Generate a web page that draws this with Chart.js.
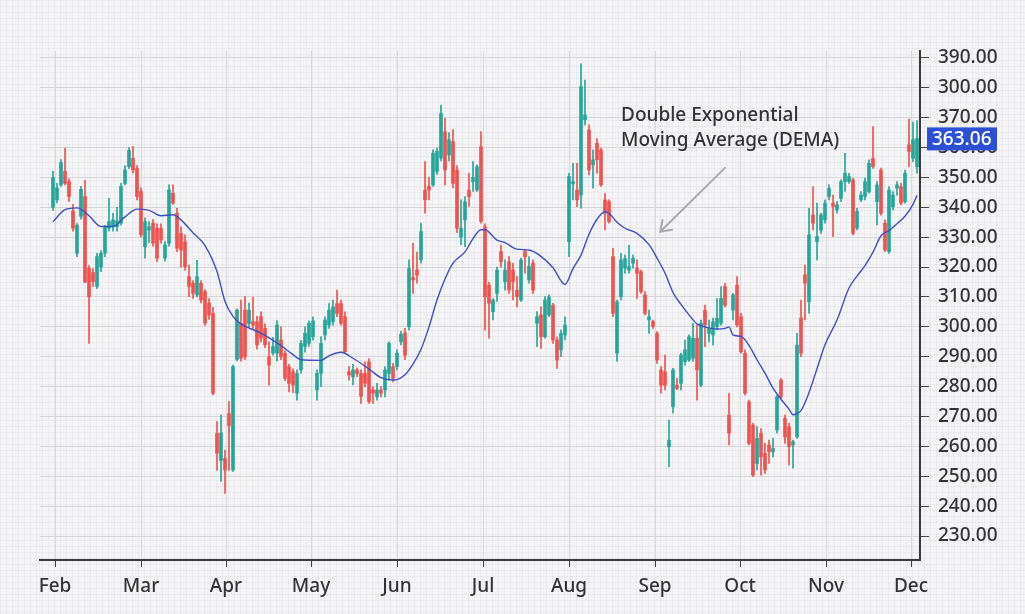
<!DOCTYPE html>
<html>
<head>
<meta charset="utf-8">
<script src="https://cdn.jsdelivr.net/npm/chart.js@4.4.1/dist/chart.umd.min.js"></script>
<style>
  html, body { margin: 0; padding: 0; }
  body {
    width: 1025px; height: 614px; overflow: hidden;
    background-color: #f4f4f6;
    background-image:
      linear-gradient(rgba(0,0,0,0.035) 1px, transparent 1px),
      linear-gradient(90deg, rgba(0,0,0,0.035) 1px, transparent 1px);
    background-size: 6px 6px;
  }
  #wrap { position: absolute; left: 0; top: 0; width: 1025px; height: 614px; }
</style>
</head>
<body>
<div id="wrap"><canvas id="chart" width="1025" height="614"></canvas></div>
<script>
// ---------- data (one candle per trading day, first one sits at slot 3) ----------
const firstSlot = 3;

const opens = [
  340, 342.5, 347.5, 352, 348.6, 338.8, 324.6, 337, 343.6, 319.6,
  318.2, 313.5, 320, 324.6, 333, 333.5, 333.5, 334.7, 348, 353.6,
  356.4, 353, 345.3, 326.8, 332.4, 334.7, 333, 333, 323, 328,
  344.7, 338, 331.3, 328.5, 316.8, 314.6, 310.7, 314.6, 311.8, 307.9,
  304.5, 264.4, 255.3, 256, 271, 252.1, 289.1, 301.2, 305.6, 301.1,
  301.7, 301.7, 303.4, 299.5, 290, 291.2, 291.2, 295.6, 291.2, 286.7,
  285, 277.8, 285.6, 293.4, 294.5, 296.7, 278.9, 284.4, 297.3, 300.6,
  301.7, 307.8, 307.8, 303.4, 285, 283.3, 285.6, 284.4, 284.4, 288.3,
  278.9, 276.6, 278.9, 278.9, 284.4, 286.7, 286.7, 295, 298, 300,
  316.5, 319, 322.4, 345.8, 347, 347.5, 352, 356.5, 365.3, 357.5,
  362, 352.5, 330, 335.8, 345.8, 348.6, 345.8, 360.3, 333.5, 314,
  305.1, 311.2, 325.2, 315.1, 321.8, 319, 312.3, 309, 325.2, 315.7,
  321.3, 301.2, 304, 296.7, 304, 307.3, 295.6, 292.3, 297.3, 328.5,
  347.8, 345.8, 344.1, 369.3, 365.9, 354.2, 361.4, 359.2, 342.5, 341.9,
  323.5, 291.2, 310.1, 319.6, 319, 321.3, 319.6, 318.5, 310.7, 302.3,
  301.8, 297.8, 285.6, 285, 259.9, 273.3, 280.5, 281.1, 288.4, 288.9,
  289.5, 296.2, 280.5, 305.6, 297.8, 297.3, 300.1, 301.2, 313.5, 270.5,
  305.6, 314, 303.4, 291.2, 275, 267.1, 254.3, 264.4, 257.7, 260.5,
  258.2, 265.5, 282.2, 269.4, 266.6, 260.5, 263.2, 303, 317.4, 308.4,
  337.4, 328.5, 332.4, 335.8, 343.6, 341.4, 339.1, 343, 348.6, 348.6,
  349.2, 333, 342.5, 343.6, 345.3, 356.4, 341.9, 352.5, 334.7, 325.2,
  340.2, 346.4, 346.9, 341.9, 360.9, 356.4, 353.6
];
const highs = [
  352, 348, 356, 359.8, 349.5, 341, 334.6, 347, 349, 320.5,
  319.5, 324.6, 325.5, 334, 343, 338, 340, 348, 354, 360,
  360.3, 354, 346.5, 336.5, 335.2, 336, 334.5, 334.5, 328.5, 347.5,
  347.5, 339.7, 333.5, 330.8, 320.7, 315.5, 322.3, 315.5, 312.5, 309.5,
  306.5, 268.3, 270.5, 258.8, 275, 287.2, 306, 309, 310.2, 308,
  310, 303.5, 305, 301, 295, 296.5, 302, 300, 292, 287.5,
  286, 285.6, 295.5, 300, 302, 303.4, 285.6, 296.7, 303.4, 307.8,
  309, 312.3, 309, 305, 286.7, 287.5, 286.2, 285.6, 288.3, 289.4,
  280, 281.1, 280, 286.7, 295, 287.8, 292.3, 298.5, 299.5, 322.4,
  328, 325, 334.7, 355.3, 350, 359.2, 359.8, 374.2, 369.8, 365,
  366, 354, 342.5, 343.6, 351.4, 355.3, 354.2, 365.3, 334.5, 315,
  309.5, 320, 327.4, 322.4, 323.5, 321.3, 316.8, 323, 325.8, 323.5,
  322.4, 305.1, 306.7, 310.1, 310.7, 307.9, 296.7, 299, 303.4, 351.4,
  354.7, 354.7, 388, 382.6, 367.6, 359.2, 363, 359.8, 344.7, 342.5,
  326.3, 309, 324.6, 324, 327.4, 324, 322.4, 319, 311.8, 305.6,
  302.3, 298.4, 286.7, 290.6, 268.8, 286.1, 282.8, 291.2, 295.6, 297.3,
  301.2, 300.6, 302.3, 307.3, 302.3, 302.9, 309.5, 313.5, 314.6, 277.8,
  311.2, 316.8, 304.5, 292.3, 275.5, 267.7, 266.6, 266, 261, 262.1,
  262.7, 277.2, 282.8, 270.5, 267.7, 262.1, 297.8, 309, 320.7, 339.7,
  346.9, 341.4, 338, 342.5, 347.5, 344.1, 341.9, 349.2, 358.1, 351.4,
  349.8, 339.7, 345.3, 349.8, 355.9, 367, 348.6, 353.1, 335.8, 346.9,
  345.3, 348.6, 348, 352.5, 369.5, 368.5, 369
];
const lows = [
  339, 341.5, 347, 347.5, 342, 332, 323.5, 336, 314.8, 294.5,
  313.5, 312.9, 318.5, 323.5, 332, 332, 332, 334, 347.5, 353,
  351.5, 342.5, 330, 323, 328.2, 327, 321.8, 328, 322, 327,
  341, 325.2, 320, 319, 310.1, 309.5, 310, 308, 300.5, 302.5,
  277.2, 252, 248.3, 244.3, 252, 251.6, 288.6, 288.5, 289, 300,
  299.5, 292.5, 295, 293, 280.5, 290.5, 288.6, 289, 282, 278.2,
  278, 275.5, 284.5, 291.5, 293.5, 295.6, 275.5, 280, 295.6, 299.5,
  300.6, 303.4, 300.6, 291, 282.2, 280.6, 283.3, 274.4, 280, 274.4,
  274.4, 275.5, 276.6, 276.6, 282.2, 281.6, 285.6, 294, 289, 299,
  311.2, 314.6, 321.3, 338, 342.5, 347, 351, 355.5, 347.5, 355.5,
  346.5, 331.5, 327.4, 326.8, 340.3, 345.3, 345.3, 334.7, 299, 296.2,
  302.3, 308.5, 320, 312.3, 311.2, 309, 306.7, 308.5, 318, 314.6,
  311.2, 293.4, 292.8, 296.2, 303.4, 294.5, 286.1, 290, 295.6, 323.5,
  342.5, 340.2, 339.7, 367.6, 350.8, 346.4, 351.4, 347, 332.4, 334.7,
  303.4, 288.4, 309, 318, 318, 319.6, 309.5, 311.2, 304, 297.8,
  299.5, 287.8, 277.8, 278.9, 253.2, 271.1, 279, 278.9, 287.2, 288.4,
  288.4, 275.5, 280, 293.4, 295, 293.9, 299, 300.6, 306.7, 260.5,
  302.3, 300, 291.2, 277.2, 260.5, 249.9, 252.1, 250.4, 251, 254.3,
  256.5, 264.4, 276, 261, 253.8, 252.7, 262.7, 290, 302.3, 304.5,
  332.4, 322.4, 331.3, 334.7, 342.5, 330.2, 338, 341.9, 345.3, 348,
  330.8, 332.4, 341.9, 342.5, 344.7, 353, 334.1, 337.4, 325.2, 324.6,
  339.1, 344.1, 340.8, 341.4, 353.6, 355.3, 351.4
];
const closes = [
  350, 346.5, 355, 348, 343.6, 333, 334, 346, 315, 310,
  315.1, 323.5, 324.6, 333.5, 335.2, 335.8, 335.5, 347, 352.5, 359,
  352.5, 343.6, 330.8, 335.2, 333.5, 328, 323, 329.1, 327.4, 345.8,
  341.4, 326.3, 325.7, 320.1, 313.5, 311.2, 316.8, 309, 301.2, 304,
  277.8, 257.7, 264.5, 252.1, 267, 286.7, 305.6, 289.5, 290, 305.6,
  300.6, 294, 296.2, 294, 287.2, 293.4, 300.6, 290, 282.8, 281.1,
  280.5, 284.4, 294.5, 297.9, 301.2, 302, 284.4, 294.5, 302.3, 305.6,
  306.7, 304.5, 301.2, 291.7, 283.9, 285.6, 284.4, 276.7, 281.1, 275,
  277.8, 278.9, 277.8, 285.6, 294.5, 282.8, 291.2, 297.5, 290.5, 319.5,
  315.7, 317.3, 331.9, 342.5, 345.8, 358.1, 358.7, 371.4, 352.5, 362.6,
  348, 333, 333, 341.9, 343.6, 350, 353.6, 335.3, 310.1, 307.9,
  309, 319, 321.8, 319, 312.3, 315.1, 310.1, 322.4, 323.5, 320.2,
  312.3, 303.4, 296.7, 309, 310, 295.6, 288.9, 297.8, 300.6, 350.3,
  348.6, 342.5, 380.4, 370.9, 352.5, 355.9, 355.9, 347.5, 338, 335.2,
  304.5, 308.4, 322.4, 322.9, 320.2, 322.9, 317.9, 311.8, 304.5, 303.4,
  300.1, 288.9, 280.5, 280.5, 262.1, 285.6, 279.4, 290.6, 292.3, 296.7,
  296.2, 285.6, 301.2, 300.6, 299.5, 301.7, 302.9, 309.5, 307.3, 264.4,
  310.7, 300.6, 291.7, 277.8, 261, 250.4, 262.7, 256.5, 252.1, 258.2,
  259.3, 276.6, 276.6, 263.2, 259.9, 261.6, 293.9, 291.2, 314.6, 330.8,
  334.7, 330.2, 337.4, 341.4, 346.4, 340.3, 340.8, 348.6, 351.4, 350.3,
  331.3, 338.6, 344.1, 348.6, 354.7, 353.6, 347.5, 338, 325.7, 345.8,
  344.1, 347.5, 341.4, 351.4, 358.7, 362.6, 363.06
];

// DEMA line at these slots
const demaSlots = [3, 6, 9, 12, 15, 18, 21, 24, 27, 30, 33, 35, 38, 41, 44, 46, 48, 50, 55, 60,
  63, 65, 70, 72, 75, 78, 82, 85, 88, 91, 93, 95, 97, 99, 101, 103, 106, 108, 110, 111,
  114, 116, 119, 122, 125, 128, 131, 133, 135, 137, 139, 141, 142, 144, 146, 149, 152, 154, 156, 158,
  160, 162, 164, 166, 169, 171, 172, 173, 175, 177, 179, 181, 183, 185, 187, 188, 189, 190, 192, 194,
  196, 199, 202, 204, 206, 208, 210, 212, 214, 216, 218, 219];
const demaValues = [335.2, 339.2, 339.8, 337.2, 333.6, 333.6, 336.8, 339.4, 339, 337.2, 337.5, 335.8, 331.5, 327.2, 318.5, 308.5, 303.5, 301, 297.9, 293.7,
  290.7, 289, 288.8, 290.3, 291.5, 289.5, 285.9, 283, 282.2, 284, 287.5, 292.5, 300, 309, 316, 321.3, 325.1, 329.5, 332.5, 332.5,
  329, 328.2, 326, 325.7, 323.6, 319.8, 314.2, 319.5, 324, 331, 336, 338.5, 338, 335, 333, 331.3, 327.5, 323, 318, 311.5,
  307.5, 304, 301, 300, 299.3, 299.5, 300, 297.3, 296.8, 293.8, 289, 284.5, 279.5, 275.8, 272.5, 270.6, 271, 272, 278, 286,
  294, 302.3, 313, 317, 320.5, 325, 330.5, 332.2, 334.5, 337, 341, 344];

// axes
const monthNames = ['Feb', 'Mar', 'Apr', 'May', 'Jun', 'Jul', 'Aug', 'Sep', 'Oct', 'Nov', 'Dec'];
const monthSlots = [3.5, 25, 46.25, 67.5, 89, 110.5, 132, 153.5, 174.75, 196.25, 217.5];
const priceTicks = [230, 240, 250, 260, 270, 280, 290, 300, 310, 320, 330, 340, 350, 360, 370, 380, 390];
const priceLabels = ['230.00', '240.00', '250.00', '260.00', '270.00', '280.00', '290.00', '300.00', '310.00',
  '320.00', '330.00', '340.00', '350.00', '360.00', '370.00', '300.00', '390.00'];
const lastPrice = 363.06;

// note + arrow, in chart units (slot, price)
const noteLines = ['Double Exponential', 'Moving Average (DEMA)'];
const notePos = [145, 370.6];
const arrowFrom = [171, 353.2];
const arrowTo = [154.8, 331.8];

// ---------- build datasets ----------
const UP = '#26a69a';
const DOWN = '#ef5350';
const candleColors = opens.map((o, i) => closes[i] >= o ? UP : DOWN);
const wickData = lows.map((l, i) => ({ x: firstSlot + i, y: [l, highs[i]] }));
const bodyData = opens.map((o, i) => ({ x: firstSlot + i, y: [o, closes[i]] }));
const demaData = demaSlots.map((s, i) => ({ x: s, y: demaValues[i] }));

const FONT = "'Noto Sans', 'DejaVu Sans', sans-serif";
const TEXT = '#333333';

const extras = {
  id: 'extras',
  afterDraw(chart) {
    const { ctx, scales: { x, y } } = chart;
    ctx.save();
    // annotation text
    ctx.fillStyle = TEXT;
    ctx.font = '500 19px ' + FONT;
    ctx.textAlign = 'left';
    ctx.textBaseline = 'middle';
    const tx = x.getPixelForValue(notePos[0]);
    const ty = y.getPixelForValue(notePos[1]);
    noteLines.forEach((t, i) => ctx.fillText(t, tx, ty + i * 25));
    // arrow
    const x1 = x.getPixelForValue(arrowFrom[0]), y1 = y.getPixelForValue(arrowFrom[1]);
    const x2 = x.getPixelForValue(arrowTo[0]), y2 = y.getPixelForValue(arrowTo[1]);
    ctx.strokeStyle = '#a9a9a9';
    ctx.lineWidth = 2;
    ctx.lineCap = 'round';
    ctx.beginPath();
    ctx.moveTo(x1, y1);
    ctx.lineTo(x2, y2);
    const ang = Math.atan2(y1 - y2, x1 - x2);
    const head = 12;
    ctx.moveTo(x2 + head * Math.cos(ang - 0.6), y2 + head * Math.sin(ang - 0.6));
    ctx.lineTo(x2, y2);
    ctx.lineTo(x2 + head * Math.cos(ang + 0.6), y2 + head * Math.sin(ang + 0.6));
    ctx.stroke();
    // last price badge
    const by = y.getPixelForValue(lastPrice);
    const bx = chart.chartArea.right + 7;
    ctx.fillStyle = '#2d4fd6';
    ctx.fillRect(bx, by - 11, 70, 23);
    ctx.fillStyle = '#ffffff';
    ctx.font = '500 19px ' + FONT;
    ctx.textAlign = 'left';
    ctx.fillText(lastPrice.toFixed(2), bx + 5, by + 1);
    ctx.restore();
  }
};

new Chart(document.getElementById('chart'), {
  type: 'bar',
  data: {
    datasets: [
      {
        type: 'line',
        data: demaData,
        borderColor: '#3d4fc6',
        borderWidth: 1.4,
        pointRadius: 0,
        cubicInterpolationMode: 'monotone',
        order: 0
      },
      {
        data: wickData,
        backgroundColor: candleColors,
        barThickness: 1,
        grouped: false,
        order: 2
      },
      {
        data: bodyData,
        backgroundColor: candleColors,
        barThickness: 3,
        minBarLength: 1,
        grouped: false,
        order: 1
      }
    ]
  },
  options: {
    responsive: false,
    animation: false,
    layout: { padding: { left: 40, top: 51, right: 0, bottom: 0 } },
    plugins: { legend: { display: false }, tooltip: { enabled: false } },
    scales: {
      x: {
        type: 'linear',
        offset: false,
        min: -0.25,
        max: 219.75,
        afterBuildTicks: s => { s.ticks = monthSlots.map(v => ({ value: v })); },
        afterFit: s => { s.height = 54; },
        ticks: {
          autoSkip: false,
          maxRotation: 0,
          padding: 8,
          color: TEXT,
          font: { family: FONT, size: 19, weight: '500' },
          callback: (v, i) => monthNames[i]
        },
        grid: { offset: false, color: '#d9d9dd', lineWidth: 1, tickColor: '#444', tickLength: 7 },
        border: { display: true, color: '#3a3a3a', width: 2 }
      },
      y: {
        position: 'right',
        min: 222,
        max: 392.3,
        afterBuildTicks: s => { s.ticks = priceTicks.map(v => ({ value: v })); },
        afterFit: s => { s.width = 105; },
        ticks: {
          padding: 9,
          color: TEXT,
          font: { family: FONT, size: 19, weight: '500' },
          callback: (v, i) => priceLabels[i]
        },
        grid: { color: '#d6d6da', lineWidth: 1, tickColor: '#444', tickLength: 9 },
        border: { display: true, color: '#3a3a3a', width: 2 }
      }
    }
  },
  plugins: [extras]
});
</script>
</body>
</html>
